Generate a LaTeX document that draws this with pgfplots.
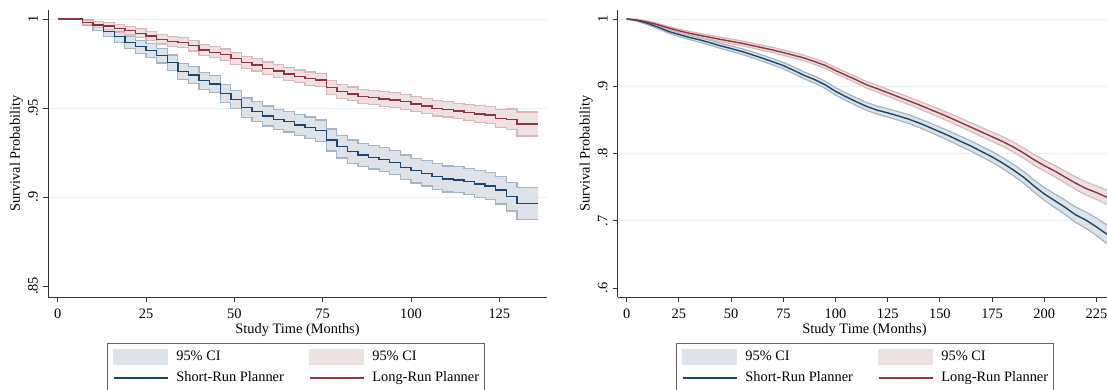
\documentclass[border=0pt]{standalone}
\usepackage{fontspec}
\setmainfont{Liberation Serif}
\usepackage{pgfplots}
\pgfplotsset{compat=1.18}
\usepackage{pgfplotstable}
\usepgfplotslibrary{fillbetween}
\newcommand\fs{\fontsize{14.4bp}{17bp}\selectfont}
\definecolor{navy}{RGB}{26,71,111}
\definecolor{maroon}{RGB}{144,53,59}
\colorlet{navyfill}{navy!15!white}
\colorlet{maroonfill}{maroon!15!white}
\colorlet{navyci}{navy!40!white}
\colorlet{maroonci}{maroon!35!white}
\definecolor{gridc}{RGB}{231,240,242}

% Left panel: Short-Run planner (blue)
\pgfplotstableread{
t s lo hi
0 1 1 1
7 .998 .9965 .9995
10 .9962 .9937 .9987
13 .9929 .9900 .9958
16 .9900 .9868 .9932
19 .9869 .9834 .9904
22 .9844 .9807 .9881
25 .9822 .9783 .9861
28 .9794 .9753 .9835
31 .9755 .9712 .9798
34 .9704 .9659 .9749
37 .9685 .9639 .9731
40 .9653 .9606 .9700
43 .9635 .9587 .9683
46 .9581 .9531 .9631
49 .9547 .9495 .9599
52 .9502 .9448 .9556
55 .9480 .9425 .9535
58 .9455 .9399 .9511
61 .9436 .9379 .9493
64 .9423 .9365 .9481
67 .9404 .9345 .9463
70 .9389 .9329 .9449
73 .9372 .9312 .9432
76 .9320 .9258 .9382
79 .9283 .9219 .9347
82 .9255 .9190 .9320
85 .9236 .9170 .9302
88 .9223 .9157 .9289
91 .9210 .9143 .9277
94 .9193 .9125 .9261
97 .9167 .9098 .9236
100 .9148 .9078 .9218
103 .9133 .9062 .9204
106 .9114 .9042 .9186
109 .9101 .9028 .9174
112 .9096 .9023 .9169
115 .9086 .9012 .9160
118 .9073 .8998 .9148
121 .9062 .8986 .9138
124 .9039 .8961 .9117
127 .9002 .8921 .9083
130 .8964 .8874 .9054
136 .8964 .8874 .9054
}\leftSR
% Left panel: Long-Run planner (red)
\pgfplotstableread{
t s lo hi
0 1 1 1
7 .998 .9968 .9992
10 .9970 .9952 .9988
13 .9960 .9940 .9980
16 .9948 .9926 .9970
19 .9934 .9910 .9958
22 .9920 .9895 .9945
25 .9905 .9879 .9931
28 .9886 .9859 .9913
31 .9872 .9844 .9900
34 .9867 .9838 .9896
37 .9850 .9820 .9880
40 .9826 .9796 .9856
43 .9813 .9782 .9844
46 .9800 .9768 .9832
49 .9779 .9746 .9812
52 .9755 .9721 .9789
55 .9742 .9708 .9776
58 .9723 .9688 .9758
61 .9708 .9673 .9743
64 .9692 .9656 .9728
67 .9678 .9642 .9714
70 .9665 .9628 .9702
73 .9657 .9620 .9694
76 .9616 .9578 .9654
79 .9592 .9553 .9631
82 .9579 .9540 .9618
85 .9563 .9523 .9603
88 .9560 .9520 .9600
91 .9550 .9509 .9591
94 .9545 .9504 .9586
97 .9535 .9493 .9577
100 .9522 .9480 .9564
103 .9511 .9468 .9554
106 .9498 .9455 .9541
109 .9493 .9449 .9537
112 .9483 .9439 .9527
115 .9474 .9429 .9519
118 .9466 .9420 .9512
121 .9460 .9413 .9507
124 .9442 .9392 .9492
127 .9436 .9378 .9494
130 .9410 .9343 .9477
136 .9410 .9343 .9477
}\leftLR
% Right panel: Short-Run planner (blue)
\pgfplotstableread{
t s lo hi
0 1 1 1
5 .998 .9968 .9992
10 .9935 .9915 .9955
15 .988 .9856 .9904
20 .9816 .9789 .9843
25 .977 .974 .980
30 .9727 .9694 .976
35 .969 .9655 .9725
40 .9647 .961 .9684
45 .9601 .9562 .964
50 .9561 .9521 .9601
55 .9518 .9476 .956
60 .947 .9426 .9514
65 .9418 .9373 .9463
70 .9364 .9317 .9411
75 .9308 .926 .9356
80 .9237 .9187 .9287
85 .9162 .9111 .9213
90 .910 .9048 .9152
95 .9023 .8969 .9077
100 .8925 .887 .898
105 .8845 .8789 .8901
110 .877 .8712 .8828
115 .870 .8641 .8759
120 .8645 .8585 .8705
125 .8605 .8543 .8667
130 .856 .8497 .8623
135 .8512 .8447 .8577
140 .8455 .8389 .8521
145 .839 .8322 .8458
150 .8323 .8253 .8393
155 .8255 .8183 .8327
160 .818 .8106 .8254
165 .811 .8034 .8186
170 .803 .7952 .8108
175 .795 .787 .803
180 .786 .7777 .7943
185 .776 .7675 .7845
190 .765 .7562 .7738
195 .752 .7429 .7611
200 .740 .7305 .7495
205 .730 .720 .740
210 .720 .7093 .7307
215 .709 .6976 .7204
220 .701 .6888 .7132
225 .691 .678 .704
230 .680 .666 .694
}\rightSR
% Right panel: Long-Run planner (red)
\pgfplotstableread{
t s lo hi
0 1 1 1
5 .9985 .9975 .9995
10 .9955 .994 .997
15 .9915 .9897 .9933
20 .9868 .9847 .9889
25 .9826 .9801 .9851
30 .9788 .9761 .9815
35 .9757 .9728 .9786
40 .9727 .9696 .9758
45 .9697 .9664 .973
50 .9668 .9633 .9703
55 .964 .9604 .9676
60 .9607 .957 .9644
65 .9573 .9535 .9611
70 .9539 .950 .9578
75 .9501 .9461 .9541
80 .9461 .942 .9502
85 .942 .9378 .9462
90 .9367 .9324 .941
95 .9311 .9267 .9355
100 .9235 .919 .928
105 .9165 .9119 .9211
110 .9095 .9048 .9142
115 .902 .8971 .9069
120 .8965 .8915 .9015
125 .8905 .8853 .8957
130 .8845 .8792 .8898
135 .8785 .873 .884
140 .8725 .8669 .8781
145 .866 .8602 .8718
150 .8597 .8537 .8657
155 .853 .8468 .8592
160 .846 .8396 .8524
165 .839 .8324 .8456
170 .832 .8252 .8388
175 .825 .818 .832
180 .818 .8108 .8252
185 .810 .8026 .8174
190 .801 .7934 .8086
195 .791 .7832 .7988
200 .782 .774 .790
205 .774 .7656 .7824
210 .765 .7562 .7738
215 .756 .7467 .7653
220 .748 .7383 .7577
225 .742 .7319 .7521
230 .735 .7245 .7455
}\rightLR

\pgfplotsset{
 kmaxis/.style={
   scale only axis, height=287bp,
   axis x line*=bottom, axis y line*=left,
   axis line style={draw=black!80, line width=0.9bp},
   tick align=outside, major tick length=5bp,
   every tick/.style={draw=black!80, line width=0.9bp},
   ymajorgrids, major grid style={draw=gridc, line width=0.9bp},
   /pgf/number format/assume math mode=true,
   tick label style={font=\fs},
   label style={font=\fs},
   xticklabel style={anchor=north, inner sep=0pt, yshift=-6.5bp},
   yticklabel style={rotate=90, anchor=south, inner sep=0pt, inner ysep=5bp},
   xlabel={Study Time (Months)},
   ylabel={Survival Probability},
   xlabel style={at={(axis description cs:0.5,0)}, anchor=center, yshift=-32.7bp, inner sep=0pt},
   legend columns=2, legend cell align=left,
   legend style={font=\fs, draw=black!60, line width=0.9bp, inner xsep=5.5bp, inner ysep=6bp,
     column sep=8bp, row sep=6bp, at={(axis description cs:0.1182,-0.1603)}, anchor=north west,
     nodes={inner sep=0pt, text height=10bp, text depth=3bp},
     /tikz/every even column/.append style={column sep=25bp}},
 },
 bnd/.style={line width=1.2bp, forget plot},
 mainl/.style={line width=1.4bp, forget plot},
}

\begin{document}
\begin{tikzpicture}
% ---------------- Left panel ----------------
\begin{axis}[kmaxis, at={(48bp,93bp)}, anchor=south west, width=499bp,
  xmin=-2.75, xmax=138.5, ymin=0.8438, ymax=1.00506,
  xtick={0,25,50,75,100,125}, xticklabels={0,25,50,75,100,125},
  ytick={.9,.95,1}, yticklabels={.9,.95,1},
  extra y ticks={.85}, extra y tick labels={.85}, extra y tick style={grid=none},
  ylabel style={at={(axis description cs:-0.0631,0.5)}, anchor=center, inner sep=0pt},
]
\addplot[name path=sh, const plot, draw=none, forget plot] table[x=t,y=hi]{\leftSR};
\addplot[name path=sl, const plot, draw=none, forget plot] table[x=t,y=lo]{\leftSR};
\addplot[navyfill, forget plot] fill between[of=sh and sl];
\addplot[const plot, navyci, bnd] table[x=t,y=hi]{\leftSR};
\addplot[const plot, navyci, bnd] table[x=t,y=lo]{\leftSR};
\addplot[name path=lh, const plot, draw=none, forget plot] table[x=t,y=hi]{\leftLR};
\addplot[name path=ll, const plot, draw=none, forget plot] table[x=t,y=lo]{\leftLR};
\addplot[maroonfill, forget plot] fill between[of=lh and ll];
\addplot[const plot, maroonci, bnd] table[x=t,y=hi]{\leftLR};
\addplot[const plot, maroonci, bnd] table[x=t,y=lo]{\leftLR};
\addplot[const plot, navy, mainl] table[x=t,y=s]{\leftSR};
\addplot[const plot, maroon, mainl] table[x=t,y=s]{\leftLR};
\addlegendimage{legend image code/.code={\fill[navyfill] (0bp,-7.5bp) rectangle (54bp,7.5bp);}}
\addlegendentry{95\% CI}
\addlegendimage{legend image code/.code={\fill[maroonfill] (0bp,-7.5bp) rectangle (54bp,7.5bp);}}
\addlegendentry{95\% CI}
\addlegendimage{legend image code/.code={\draw[navy, line width=1.4bp] (0bp,0bp) -- (54bp,0bp);}}
\addlegendentry{Short-Run Planner}
\addlegendimage{legend image code/.code={\draw[maroon, line width=1.4bp] (0bp,0bp) -- (54bp,0bp);}}
\addlegendentry{Long-Run Planner\hspace{4bp}}
\end{axis}
% ---------------- Right panel ----------------
\begin{axis}[kmaxis, at={(617.7bp,93bp)}, anchor=south west, width=493.4bp,
  xmin=-4.3, xmax=232, ymin=0.5868, ymax=1.0134,
  xtick={0,25,50,75,100,125,150,175,200,225}, xticklabels={0,25,50,75,100,125,150,175,200,225},
  ytick={.7,.8,.9,1}, yticklabels={.7,.8,.9,1},
  extra y ticks={.6}, extra y tick labels={.6}, extra y tick style={grid=none},
  ylabel style={at={(axis description cs:-0.0638,0.5)}, anchor=center, inner sep=0pt},
]
\addplot[name path=sh, draw=none, forget plot] table[x=t,y=hi]{\rightSR};
\addplot[name path=sl, draw=none, forget plot] table[x=t,y=lo]{\rightSR};
\addplot[navyfill, forget plot] fill between[of=sh and sl];
\addplot[navyci, bnd] table[x=t,y=hi]{\rightSR};
\addplot[navyci, bnd] table[x=t,y=lo]{\rightSR};
\addplot[name path=lh, draw=none, forget plot] table[x=t,y=hi]{\rightLR};
\addplot[name path=ll, draw=none, forget plot] table[x=t,y=lo]{\rightLR};
\addplot[maroonfill, forget plot] fill between[of=lh and ll];
\addplot[maroonci, bnd] table[x=t,y=hi]{\rightLR};
\addplot[maroonci, bnd] table[x=t,y=lo]{\rightLR};
\addplot[navy, mainl] table[x=t,y=s]{\rightSR};
\addplot[maroon, mainl] table[x=t,y=s]{\rightLR};
\addlegendimage{legend image code/.code={\fill[navyfill] (0bp,-7.5bp) rectangle (54bp,7.5bp);}}
\addlegendentry{95\% CI}
\addlegendimage{legend image code/.code={\fill[maroonfill] (0bp,-7.5bp) rectangle (54bp,7.5bp);}}
\addlegendentry{95\% CI}
\addlegendimage{legend image code/.code={\draw[navy, line width=1.4bp] (0bp,0bp) -- (54bp,0bp);}}
\addlegendentry{Short-Run Planner}
\addlegendimage{legend image code/.code={\draw[maroon, line width=1.4bp] (0bp,0bp) -- (54bp,0bp);}}
\addlegendentry{Long-Run Planner\hspace{4bp}}
\end{axis}
\pgfresetboundingbox
\useasboundingbox (0bp,0bp) rectangle (1107bp,390bp);
\end{tikzpicture}
\end{document}
